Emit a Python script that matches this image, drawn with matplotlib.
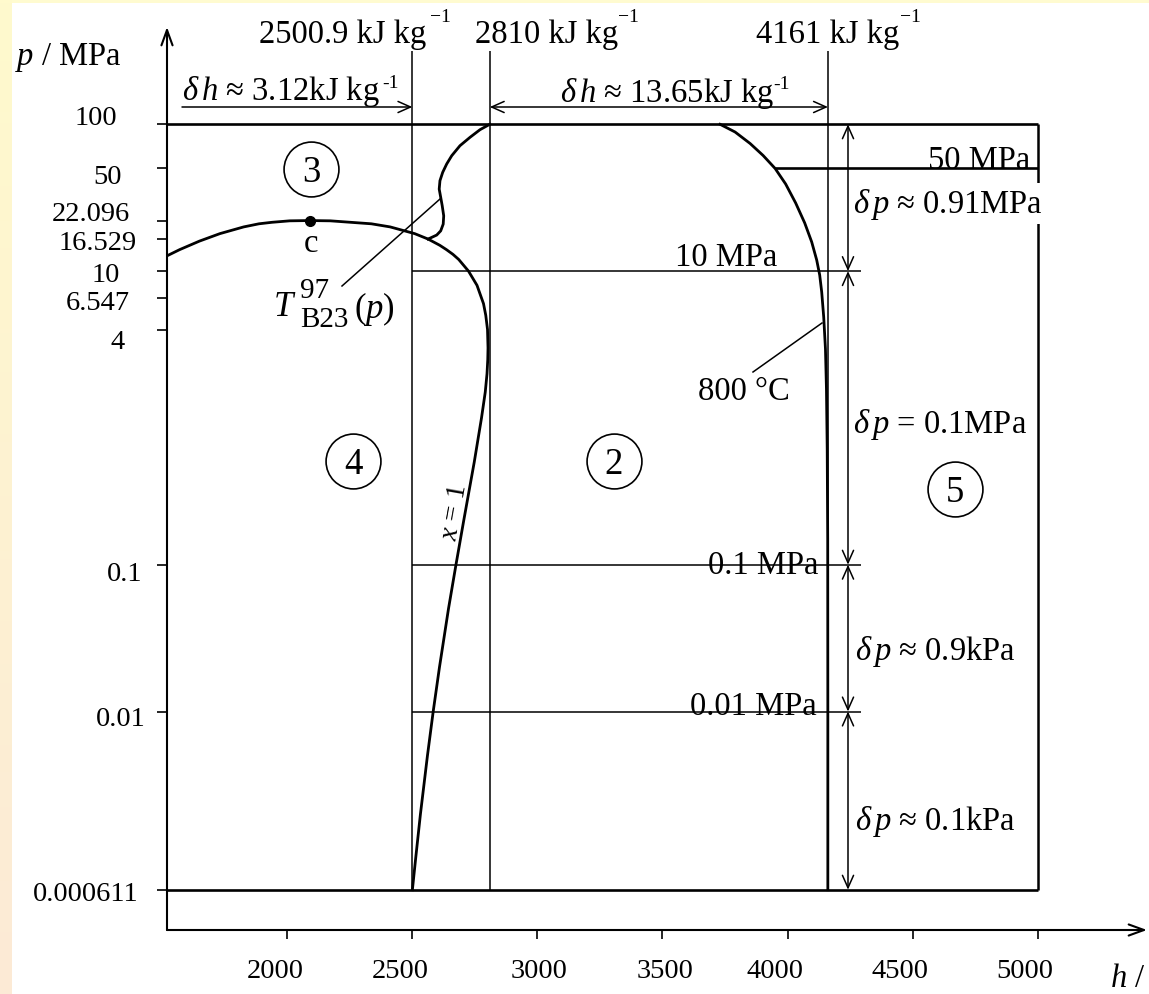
import numpy as np
import matplotlib
matplotlib.use("Agg")
import matplotlib.pyplot as plt
from matplotlib.patches import Rectangle
from matplotlib.ticker import NullLocator

# ---------------- data ----------------
# saturation curve (liquid side -> critical point -> saturated vapour x = 1)
sat_h = [1491, 1571, 1650, 1732, 1827, 1888, 1940, 2011, 2090, 2173, 2337, 2412,
         2510, 2563.6, 2610, 2637, 2663, 2686, 2725, 2759, 2785, 2794, 2801, 2803,
         2802, 2799, 2792, 2777, 2748, 2706, 2675, 2645, 2609, 2584, 2561, 2533,
         2514, 2500.9]
sat_p = [12, 14, 16, 18, 20, 21, 21.5, 22.0, 22.096, 22.0, 21, 20,
         18, 16.529, 15, 14, 13, 12, 10, 8, 6, 5, 4, 3,
         2.5, 2, 1.5, 1, 0.5, 0.2, 0.1, 0.05, 0.02, 0.01, 0.005, 0.002,
         0.001, 0.000611]

# boundary between region 2 and 3, T_B23(p)
b23_h = [2563.6, 2598, 2614, 2624, 2626, 2620, 2614, 2608, 2611, 2622, 2638,
         2658, 2691, 2731, 2771, 2810]
b23_p = [16.529, 17.6, 18.8, 20.9, 23.8, 27.9, 31.8, 36.2, 41.3, 47.1, 53.7,
         61.1, 71.5, 81.5, 91.9, 100]

# 800 degC isotherm
iso_h = [3730, 3790, 3850, 3902, 3950, 3992, 4032, 4068, 4096, 4116, 4128, 4136,
         4144, 4151, 4155, 4158, 4160, 4160.5, 4160.5]
iso_p = [100, 88.6, 74.0, 61.3, 50, 39.2, 29.1, 21.3, 15.8, 11.9, 9.4, 7.2,
         4.87, 2.95, 1.57, 0.614, 0.15, 0.01, 0.000611]

crit_h, crit_p = 2090, 22.096

h_bounds = [2500.9, 2810, 4161]
h_bound_labels = ["2500.9 kJ kg", "2810 kJ kg", "4161 kJ kg"]
p_top_line, p_bottom_line, p_50 = 100, 0.000611, 50
h_right = 5000
p_levels = [10, 0.1, 0.01]
p_level_labels = ["10 MPa", "0.1 MPa", "0.01 MPa"]
dp_levels = [100, 10, 0.1, 0.01, 0.000611]
dp_labels = [r"$\delta\,p$ ≈ 0.91MPa", r"$\delta\,p$ = 0.1MPa",
             r"$\delta\,p$ ≈ 0.9kPa", r"$\delta\,p$ ≈ 0.1kPa"]
dh_labels = [r"$\delta\,h$ ≈ 3.12kJ kg", r"$\delta\,h$ ≈ 13.65kJ kg"]

xticks = [2000, 2500, 3000, 3500, 4000, 4500, 5000]
xtick_labels = ["2000", "2500", "3000", "3500", "4000", "4500", "5000"]
yticks = [100, 50, 22.096, 16.529, 10, 6.547, 4, 0.1, 0.01, 0.000611]
ytick_labels = ["100", "50", "22.096", "16.529", "10", "6.547", "4", "0.1", "0.01", "0.000611"]
regions = ["3", "4", "2", "5"]

# ---------------- style ----------------
plt.rcParams["font.family"] = ["Liberation Serif", "DejaVu Serif"]
plt.rcParams["mathtext.fontset"] = "custom"
plt.rcParams["mathtext.rm"] = "Liberation Serif"
plt.rcParams["mathtext.it"] = "Liberation Serif:italic"
plt.rcParams["mathtext.bf"] = "Liberation Serif:bold"

W, H = 1149, 995
fig = plt.figure(figsize=(W / 100, H / 100), dpi=100)
fig.patch.set_facecolor("white")

# decorative slide background strips
bg = fig.add_axes([0, 0, 12 / W, 1], zorder=-5)
g = np.linspace(0, 1, 256)[:, None, None]
c_top = np.array([255, 250, 205]) / 255
c_bot = np.array([252, 234, 214]) / 255
bg.imshow(c_top * (1 - g) + c_bot * g, aspect="auto", extent=[0, 1, 0, 1])
bg.axis("off")
fig.add_artist(Rectangle((0, 1 - 4 / H), 1, 4 / H, transform=fig.transFigure,
                         color="#FFFBD0", zorder=-5, lw=0))

ax = fig.add_axes([167 / W, 1 - 931 / H, 980 / W, 903 / H])
ax.set_yscale("log")
ax.set_xlim(1520.6, 5435.5)
ax.set_ylim(10 ** -3.4884, 10 ** 2.6628)
ax.patch.set_visible(False)
for s in ax.spines.values():
    s.set_visible(False)
ax.set_xticks(xticks)
ax.set_xticklabels([])
ax.set_yticks(yticks)
ax.set_yticklabels([])
ax.yaxis.set_minor_locator(NullLocator())
ax.tick_params(axis="y", direction="out", length=7.2, width=1.2)
ax.tick_params(axis="x", direction="out", length=6.5, width=1.2)


def px2data(x, y):
    return ax.transData.inverted().transform((x, H - y))


def ptext(x, y, s, size=23.5, **kw):
    va = kw.pop("va", "baseline")
    return fig.text(x / W, 1 - y / H, s, fontsize=size, va=va, **kw)


K = "black"
axis_arrow = dict(arrowstyle="->,head_length=1.1,head_width=0.4", lw=1.5, color=K,
                  mutation_scale=10, shrinkA=0, shrinkB=0)
ax.annotate("", xy=(0, 1), xytext=(0, 0), xycoords="axes fraction", arrowprops=axis_arrow)
ax.annotate("", xy=(1, 0), xytext=(0, 0), xycoords="axes fraction", arrowprops=axis_arrow)

# tick labels
ylab_right = [117, 122, 130, 137, 120, 130, 125, 142, 146, 139]
ylab_base = [125, 184, 221, 250, 282, 310, 349, 581, 726, 901]
for lab, xr, yb in zip(ytick_labels, ylab_right, ylab_base):
    ptext(xr, yb, lab, 20.5, ha="right")
xlab_center = [275, 400, 539, 665, 775, 900, 1025]
for lab, xc in zip(xtick_labels, xlab_center):
    ptext(xc, 978, lab, 20.5, ha="center")
ptext(15, 65, r"$p$ / MPa", 23.5)
ptext(1110, 987, r"$h$ /", 23.5)

# frame lines
h_left = ax.get_xlim()[0]
ax.hlines([p_top_line, p_bottom_line], h_left, h_right, color=K, lw=1.9)
ax.vlines(h_right, p_bottom_line, p_top_line, color=K, lw=1.8)
ax.hlines(p_50, iso_h[iso_p.index(p_50)], h_right, color=K, lw=1.9)

# boundary verticals
p_vtop = px2data(0, 52)[1]
ax.vlines(h_bounds, p_bottom_line, p_vtop, color=K, lw=1.1)

# horizontal pressure lines
h_line_end = px2data(861, 0)[0]
ax.hlines(p_levels, h_bounds[0], h_line_end, color=K, lw=1.1)

# curves
ax.plot(sat_h, sat_p, color=K, lw=2.0, solid_joinstyle="round")
ax.plot(b23_h, b23_p, color=K, lw=2.0, solid_joinstyle="round")
ax.plot(iso_h, iso_p, color=K, lw=2.0, solid_joinstyle="round")
ax.plot(crit_h, crit_p, "o", ms=7, color=K)

# dimension arrows
dim = dict(lw=1.1, color=K, mutation_scale=10, shrinkA=0, shrinkB=0)
p_arr = px2data(0, 108)[1]
h_arr0 = px2data(182, 0)[0]
ax.annotate("", xy=(h_bounds[0], p_arr), xytext=(h_arr0, p_arr),
            arrowprops=dict(arrowstyle="->,head_length=0.9,head_width=0.4", **dim))
ax.annotate("", xy=(h_bounds[2], p_arr), xytext=(h_bounds[1], p_arr),
            arrowprops=dict(arrowstyle="<->,head_length=0.9,head_width=0.4", **dim))
h_dim = px2data(848, 0)[0]
for pa, pb in zip(dp_levels[:-1], dp_levels[1:]):
    ax.annotate("", xy=(h_dim, pb), xytext=(h_dim, pa),
                arrowprops=dict(arrowstyle="<->,head_length=0.9,head_width=0.4", **dim))

# leader lines
for (x0, y0), (x1, y1) in [((342, 287), (440, 200)), ((753, 373), (822, 324))]:
    a, b = px2data(x0, y0), px2data(x1, y1)
    ax.plot([a[0], b[0]], [a[1], b[1]], color=K, lw=1.1)

# region markers
for lab, (x, y) in zip(regions, [(311, 170), (353, 462), (614, 462), (955, 490)]):
    h, p = px2data(x, y)
    ax.plot(h, p, "o", ms=39.5, mfc="none", mec=K, mew=1.2)
    ax.annotate(lab, xy=(h, p), xytext=(0, -12.5), textcoords="offset pixels",
                ha="center", va="baseline", fontsize=26.5)

# texts
for lab, xl, sx in zip(h_bound_labels, [259, 475, 756], [430, 618, 900]):
    ptext(xl, 43, lab, 23.5)
    ptext(sx, 22, "\u22121", 14)
ptext(182, 100, dh_labels[0], 23.5)
ptext(382, 88, "-1", 14)
ptext(560, 102, dh_labels[1], 23.5)
ptext(773, 89, "-1", 14)

ptext(853, 213, dp_labels[0], 23.5,
      bbox=dict(facecolor="white", edgecolor="none", pad=2))
ptext(853, 433, dp_labels[1], 23.5)
ptext(855, 660, dp_labels[2], 23.5)
ptext(855, 830, dp_labels[3], 23.5)

ptext(1030, 169, "50 MPa", 23.5, ha="right")
for lab, xr, yb in zip(p_level_labels, [777, 818, 817], [266, 574, 715]):
    ptext(xr, yb, lab, 23.5, ha="right")
ptext(790, 400, "800 °C", 23.5, ha="right")
ptext(311, 252, "c", 23.5, ha="center")

ptext(273, 316, r"$T$", 25)
ptext(300, 298, "97", 21)
ptext(300, 327, "B23", 21)
ptext(354, 318, r"$(p)$", 25)

hx, px_ = px2data(455, 513)
ax.text(hx, px_, r"$x$ = 1", rotation=80, rotation_mode="anchor",
        ha="center", va="center", fontsize=20)

fig.savefig("out.png", dpi=100)
